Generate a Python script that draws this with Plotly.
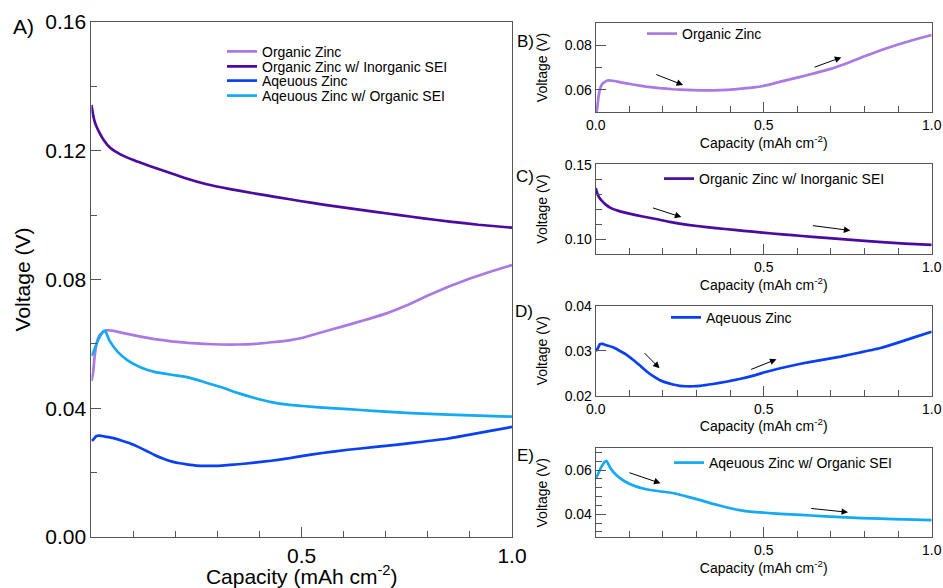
import plotly.graph_objects as go

FONT = "Liberation Sans, Arial, Helvetica, sans-serif"

names = ["Organic Zinc", "Organic Zinc w/ Inorganic SEI", "Aqeuous Zinc", "Aqeuous Zinc w/ Organic SEI"]
colors = ["#a97ae3", "#4b0ba0", "#0a40f5", "#14a9f5"]

cap_org = [0, 0.004, 0.008, 0.013, 0.02, 0.035, 0.05, 0.071, 0.111, 0.15, 0.19, 0.23, 0.269, 0.31,
           0.35, 0.39, 0.428, 0.47, 0.503, 0.55, 0.6, 0.65, 0.7, 0.75, 0.8, 0.85, 0.9, 0.95, 1.0]
v_org = [0.0485, 0.0510, 0.0565, 0.0605, 0.0628, 0.0642, 0.0641, 0.0635, 0.0624, 0.0615, 0.0608,
         0.0603, 0.0600, 0.0598, 0.0598, 0.0600, 0.0605, 0.0611, 0.0619, 0.0637, 0.0655, 0.0674,
         0.0694, 0.0720, 0.0750, 0.0778, 0.0803, 0.0825, 0.0845]

cap_org_sei = [0, 0.005, 0.01, 0.02, 0.03, 0.044, 0.07, 0.1, 0.14, 0.179, 0.22, 0.274, 0.33, 0.385,
               0.44, 0.496, 0.555, 0.615, 0.675, 0.733, 0.79, 0.852, 0.92, 1.0]
v_org_sei = [0.1342, 0.1305, 0.1282, 0.1254, 0.1232, 0.1210, 0.1188, 0.1171, 0.1152, 0.1135, 0.1116,
             0.1096, 0.1081, 0.1068, 0.1056, 0.1044, 0.1032, 0.1021, 0.1010, 0.1000, 0.0990, 0.0980,
             0.0970, 0.0961]

cap_aq = [0, 0.004, 0.012, 0.02, 0.032, 0.05, 0.071, 0.09, 0.111, 0.13, 0.15, 0.17, 0.19, 0.21, 0.23,
          0.25, 0.269, 0.29, 0.31, 0.349, 0.388, 0.428, 0.467, 0.503, 0.549, 0.61, 0.67, 0.729, 0.787,
          0.848, 0.9, 0.945, 1.0]
v_aq = [0.0300, 0.0302, 0.0314, 0.0315, 0.0312, 0.0308, 0.0300, 0.0292, 0.0280, 0.0268, 0.0255,
        0.0244, 0.0235, 0.0229, 0.0225, 0.0222, 0.0221, 0.0221, 0.0222, 0.0226, 0.0231, 0.0237,
        0.0244, 0.0252, 0.0261, 0.0271, 0.0279, 0.0287, 0.0296, 0.0306, 0.0318, 0.0329, 0.0342]

cap_aq_sei = [0, 0.004, 0.016, 0.028, 0.033, 0.043, 0.062, 0.087, 0.119, 0.15, 0.19, 0.23, 0.269,
              0.309, 0.349, 0.388, 0.428, 0.467, 0.503, 0.55, 0.61, 0.67, 0.729, 0.79, 0.848, 0.92, 1.0]
v_aq_sei = [0.0563, 0.0572, 0.0612, 0.0638, 0.0640, 0.0610, 0.0576, 0.0548, 0.0526, 0.0513, 0.0504,
            0.0496, 0.0481, 0.0465, 0.0447, 0.0432, 0.0419, 0.0411, 0.0407, 0.0402, 0.0397, 0.0392,
            0.0387, 0.0383, 0.0380, 0.0377, 0.0374]

caps = [cap_org, cap_org_sei, cap_aq, cap_aq_sei]
volts = [v_org, v_org_sei, v_aq, v_aq_sei]

# arrows per sub-panel: (x_start, y_start, x_end, y_end)
arrows_b = [(0.176, 0.0671, 0.26, 0.0622), (0.647, 0.0699, 0.731, 0.0745)]
arrows_c = [(0.166, 0.1213, 0.255, 0.1148), (0.642, 0.1092, 0.758, 0.1058)]
arrows_d = [(0.141, 0.0298, 0.19, 0.0261), (0.458, 0.0257, 0.538, 0.0281)]
arrows_e = [(0.096, 0.0590, 0.193, 0.0540), (0.637, 0.0427, 0.751, 0.0409)]

W, H = 943, 588

def px(x):
    return x / W

def py(y):
    return (H - y) / H

fig = go.Figure()

# main panel A (legends 2-5), sub panels B-E (legends 6-9)
for i in range(4):
    fig.add_trace(go.Scatter(x=caps[i], y=volts[i], mode="lines", name=names[i],
                             line=dict(color=colors[i], width=2.7, shape="spline", smoothing=0.4),
                             xaxis="x", yaxis="y", legend="legend%d" % (i + 2)))
for i in range(4):
    k = i + 2
    fig.add_trace(go.Scatter(x=caps[i], y=volts[i], mode="lines", name=names[i],
                             line=dict(color=colors[i], width=2.7, shape="spline", smoothing=0.4),
                             xaxis="x%d" % k, yaxis="y%d" % k, legend="legend%d" % (i + 6)))

axcol = "#555555"

def xax(domain, anchor, tickvals, fs, title_fs, standoff):
    return dict(domain=domain, anchor=anchor, range=[0, 1], showline=True, linecolor=axcol,
                linewidth=1, mirror=True, ticks="inside", ticklen=10, tickcolor=axcol,
                tickmode="array", tickvals=tickvals, ticktext=["%.1f" % v for v in tickvals],
                minor=dict(ticks="inside", ticklen=6, dtick=0.1, tick0=0, tickcolor=axcol),
                showgrid=False, zeroline=False, tickfont=dict(size=fs, color="black"),
                title=dict(text="Capacity (mAh cm<sup>-2</sup>)", font=dict(size=title_fs, color="black"),
                           standoff=standoff))

def yax(domain, anchor, rng, dtick, mdtick, fs, title_fs, standoff):
    return dict(domain=domain, anchor=anchor, range=rng, showline=True, linecolor=axcol,
                linewidth=1, mirror=True, ticks="inside", ticklen=10, tickcolor=axcol,
                dtick=dtick, tick0=0, tickformat=".2f",
                minor=dict(ticks="inside", ticklen=6, dtick=mdtick, tick0=0, tickcolor=axcol),
                showgrid=False, zeroline=False, tickfont=dict(size=fs, color="black"),
                title=dict(text="Voltage (V)", font=dict(size=title_fs, color="black"), standoff=standoff))

xdom_a = [px(91.4), px(512)]
xdom_s = [px(595.7), px(931.7)]

layout = dict(
    width=W, height=H, margin=dict(l=0, r=0, t=0, b=0, autoexpand=False),
    paper_bgcolor="white", plot_bgcolor="white", showlegend=True,
    font=dict(family=FONT, color="black"),
    xaxis=xax(xdom_a, "y", [0.5, 1.0], 21, 21, 2),
    yaxis=yax([py(537), py(22)], "x", [0, 0.16], 0.04, 0.02, 21, 21, 8),
    xaxis2=xax(xdom_s, "y2", [0.0, 0.5, 1.0], 14, 14, 1),
    yaxis2=yax([py(112.3), py(22.7)], "x2", [0.05, 0.09], 0.02, 0.01, 14, 14, 13),
    xaxis3=xax(xdom_s, "y3", [0.5, 1.0], 14, 14, 1),
    yaxis3=yax([py(254), py(164)], "x3", [0.09, 0.1505], 0.05, 0.01, 14, 14, 13),
    xaxis4=xax(xdom_s, "y4", [0.0, 0.5, 1.0], 14, 14, 1),
    yaxis4=yax([py(395.7), py(305.7)], "x4", [0.02, 0.04], 0.01, 0.01, 14, 14, 13),
    xaxis5=xax(xdom_s, "y5", [0.5, 1.0], 14, 14, 1),
    yaxis5=yax([py(537.3), py(448.3)], "x5", [0.0296, 0.0698], 0.02, 0.004, 14, 14, 13),
)

# legends: one single-entry legend per series line, placed like the reference
legend_pos = [(222, 51.7), (222, 66.7), (222, 81), (222, 96),
              (642, 34), (659, 179), (666, 317.7), (669, 463)]
for j, (lx, ly) in enumerate(legend_pos):
    key = "legend%d" % (j + 2)
    layout[key] = dict(x=px(lx), y=py(ly), xanchor="left", yanchor="middle",
                       bgcolor="rgba(0,0,0,0)", borderwidth=0, font=dict(size=14, color="black"),
                       itemwidth=30, tracegroupgap=0)

annotations = []
panel_labels = [("A)", 23, 26, 21), ("B)", 525, 41, 17), ("C)", 525, 177, 17),
                ("D)", 524, 312, 17), ("E)", 525, 455, 17)]
for t, x, y, s in panel_labels:
    annotations.append(dict(text=t, x=px(x), y=py(y), xref="paper", yref="paper", showarrow=False,
                            xanchor="center", yanchor="middle", font=dict(size=s, color="black")))

for k, arrs in zip([2, 3, 4, 5], [arrows_b, arrows_c, arrows_d, arrows_e]):
    for (x0, y0, x1, y1) in arrs:
        annotations.append(dict(x=x1, y=y1, ax=x0, ay=y0, xref="x%d" % k, yref="y%d" % k,
                                axref="x%d" % k, ayref="y%d" % k, text="", showarrow=True,
                                arrowhead=2, arrowsize=1.3, arrowwidth=1, arrowcolor="black"))
layout["annotations"] = annotations

fig.update_layout(**layout)
fig.write_html("out.html", config={"displayModeBar": False},
               post_script="document.body.style.margin='0px';")
